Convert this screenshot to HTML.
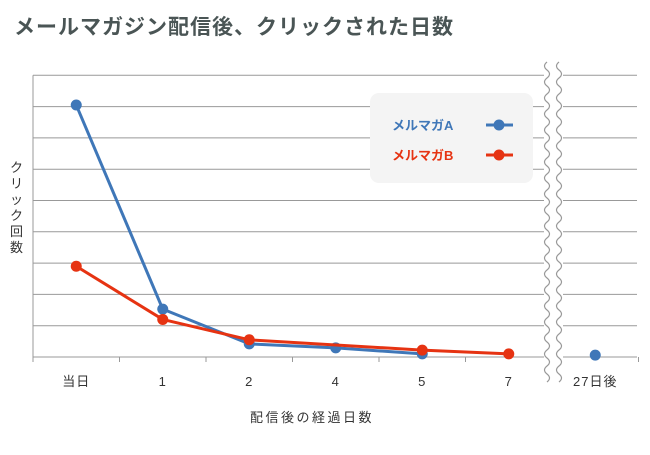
<!DOCTYPE html>
<html><head><meta charset="utf-8"><style>
body{margin:0;background:#fff;font-family:"Liberation Sans","Noto Sans CJK JP",sans-serif}
</style></head><body>
<svg width="650" height="450" xmlns="http://www.w3.org/2000/svg" font-family="Liberation Sans, Noto Sans CJK JP, sans-serif">
<text x="14" y="34" font-size="21" letter-spacing="1" font-weight="bold" fill="#4a5555">メールマガジン配信後、クリックされた日数</text>
<g id="grid"></g>
<g id="xaxis"></g>
<g id="brk"></g>
<rect x="370" y="93" width="163" height="90" rx="9" fill="#f4f4f4"/>
<g>
<text x="392" y="130" font-size="13" fill="#3f77b8" font-weight="bold">メルマガA</text>
<line x1="486" y1="125" x2="513" y2="125" stroke="#3f77b8" stroke-width="3"/><circle cx="499" cy="125" r="5.5" fill="#3f77b8"/></g>
<g>
<text x="392" y="160" font-size="13" fill="#e63312" font-weight="bold">メルマガB</text>
<line x1="486" y1="155" x2="513" y2="155" stroke="#e63312" stroke-width="3"/><circle cx="499" cy="155" r="5.5" fill="#e63312"/></g>
<g id="series"></g>
<text font-size="13" fill="#333"><tspan x="10" y="172">ク</tspan><tspan x="10" y="188">リ</tspan><tspan x="10" y="204">ッ</tspan><tspan x="10" y="220">ク</tspan><tspan x="10" y="236">回</tspan><tspan x="10" y="252">数</tspan></text>
<text x="312" y="422" font-size="13" letter-spacing="2.5" fill="#333" text-anchor="middle">配信後の経過日数</text>
</svg>
<script>
const categories=["当日","1","2","4","5","7","27日後"];
const seriesA=[8.05,1.53,0.42,0.29,0.1,null,0.06];
const seriesB=[2.9,1.2,0.55,null,0.22,0.1,null];
const ns="http://www.w3.org/2000/svg";
const X0=33,STEP=86.5,Y0=357,UNIT=31.3;
const x=i=>X0+STEP*(i+0.5);
const y=v=>Y0-v*UNIT;
function mk(t,a,p){const e=document.createElementNS(ns,t);for(const k in a)e.setAttribute(k,a[k]);p.appendChild(e);return e;}
const g=document.getElementById('grid');
for(let k=0;k<=9;k++){
 const l1=mk('line',{x1:X0,x2:544,y1:y(k),y2:y(k),stroke:'#999','stroke-width':1},g);
 
 
 const l2=mk('line',{x1:563,x2:637,y1:y(k),y2:y(k),stroke:'#999','stroke-width':1},g);
 
 
}
mk('line',{x1:X0,x2:X0,y1:y(9),y2:Y0,stroke:'#999'},g);
const xa=document.getElementById('xaxis');
for(let i=0;i<=7;i++){const tx=X0+STEP*i;if(i==6)continue;mk('line',{x1:tx,x2:tx,y1:Y0,y2:Y0+5,stroke:'#999'},xa);}
categories.forEach((c,i)=>{const t=mk('text',{x:x(i),y:386,'font-size':13,fill:'#333','text-anchor':'middle','letter-spacing':1},xa);t.textContent=c;
 
 });
const b=document.getElementById('brk');
let d1='M547 62',d2='M559 62';
for(let yy=62;yy<380;yy+=16){d1+=` q-5 4 0 8 q5 4 0 8`;d2+=` q-5 4 0 8 q5 4 0 8`;}
mk('rect',{x:545,y:60,width:17,height:322,fill:'#fff'},b);
mk('path',{d:d1,fill:'none',stroke:'#999','stroke-width':1.2},b);
mk('path',{d:d2,fill:'none',stroke:'#999','stroke-width':1.2},b);
const s=document.getElementById('series');
function draw(arr,col,name){
 const pts=[];arr.forEach((v,i)=>{if(v!==null&&i<6)pts.push([x(i),y(v)]);});
 const p=mk('polyline',{points:pts.map(q=>q.join(',')).join(' '),fill:'none',stroke:col,'stroke-width':3,'stroke-linejoin':'round'},s);
 
 
 arr.forEach((v,i)=>{if(v===null)return;const c=mk('circle',{cx:x(i),cy:y(v),r:5.5,fill:col},s);
  
  });
}
draw(seriesA,'#3f77b8','series-a');
draw(seriesB,'#e63312','series-b');
</script>
</body></html>
